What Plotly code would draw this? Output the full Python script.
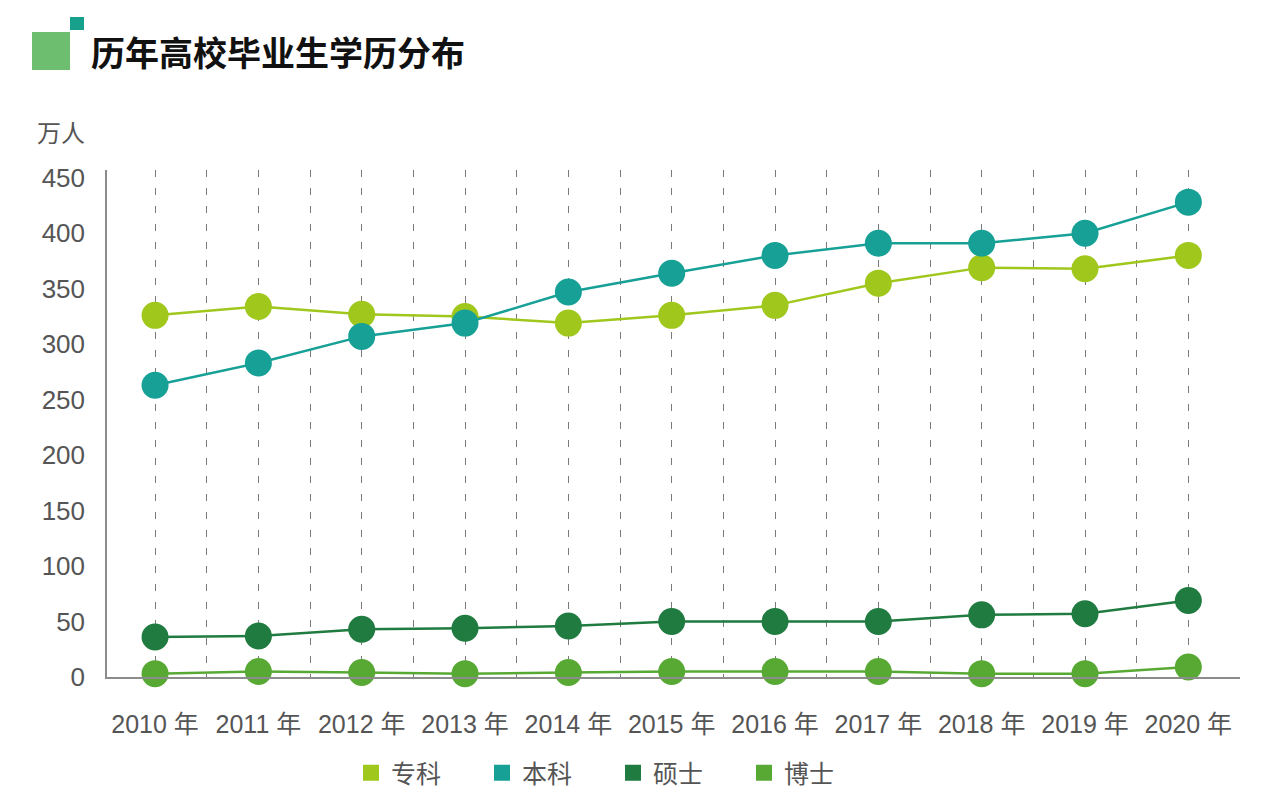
import plotly.graph_objects as go

years = [2010, 2011, 2012, 2013, 2014, 2015, 2016, 2017, 2018, 2019, 2020]
year_labels = [f"{y} 年" for y in years]
zhuanke = [326, 334, 327, 325, 319, 326, 335, 355, 369, 368, 380]
benke = [263, 283, 307, 319, 347, 364, 380, 391, 391, 400, 428]
shuoshi = [36, 37, 43, 44, 46, 50, 50, 50, 56, 57, 69]
boshi = [3, 5, 4, 3, 4, 5, 5, 5, 3, 3, 9]
y_ticks = [0, 50, 100, 150, 200, 250, 300, 350, 400, 450]

series = [
    ("专科", zhuanke, "#9fc71c"),
    ("本科", benke, "#16a096"),
    ("硕士", shuoshi, "#1f7b3f"),
    ("博士", boshi, "#58a934"),
]

OFF = 8  # page body margin
W, H = 1280 - 2 * OFF, 808 - 2 * OFF
L, T = 107 - OFF, 170 - OFF
R = W - (1240 - OFF)
B = H - (677 - OFF)
PW, PH = W - L - R, H - T - B

def px_x(p):
    return (p - OFF - L) / PW

def px_y(p):
    return (H - B - (p - OFF)) / PH

FONT = "Liberation Sans, Arial, Noto Sans CJK SC, sans-serif"
CJK = "Noto Sans CJK SC, sans-serif"
GRID = "7px,11px"

fig = go.Figure()
for name, vals, color in series:
    fig.add_trace(go.Scatter(
        x=years, y=vals, mode="lines+markers", name=name,
        line=dict(color=color, width=2.5),
        marker=dict(color=color, size=27),
        cliponaxis=False, showlegend=False,
    ))
for name, vals, color in series:
    fig.add_trace(go.Scatter(
        x=[None], y=[None], mode="markers", name=name,
        marker=dict(color=color, size=22, symbol="square"),
        showlegend=True,
    ))

fig.update_layout(
    width=W, height=H,
    margin=dict(l=L, r=R, t=T, b=B, autoexpand=False),
    paper_bgcolor="white", plot_bgcolor="white",
    font=dict(family=FONT, color="#555555", size=22),
    legend=dict(
        orientation="h", x=px_x(351), xanchor="left",
        y=px_y(773), yanchor="middle",
        entrywidth=86, entrywidthmode="pixels",
        font=dict(family=CJK, size=25, color="#555555"),
        bgcolor="rgba(0,0,0,0)",
    ),
    xaxis=dict(
        range=[years[0] - 0.465, years[-1] + 0.5],
        tickvals=years, ticktext=year_labels,
        showgrid=True, griddash=GRID, gridcolor="#7a7a7a", gridwidth=1,
        minor=dict(dtick=0.5, tick0=years[0] + 0.5, showgrid=True,
                   griddash=GRID, gridcolor="#7a7a7a", gridwidth=1),
        showline=True, linecolor="#8c8c8c", linewidth=1.5,
        zeroline=False, ticks="", ticklabelstandoff=24,
        tickfont=dict(family=FONT, size=25, color="#555555"),
    ),
    yaxis=dict(
        range=[0, 457], tickvals=y_ticks,
        showgrid=False, zeroline=False,
        showline=True, linecolor="#8c8c8c", linewidth=1.5,
        ticks="", ticklabelstandoff=15,
        tickfont=dict(family=FONT, size=26, color="#555555"),
    ),
    shapes=[
        dict(type="rect", xref="paper", yref="paper",
             x0=px_x(32), x1=px_x(70), y0=px_y(70), y1=px_y(32),
             fillcolor="#6dbe6e", line=dict(width=0), layer="above"),
        dict(type="rect", xref="paper", yref="paper",
             x0=px_x(70), x1=px_x(84), y0=px_y(30), y1=px_y(17),
             fillcolor="#17a08c", line=dict(width=0), layer="above"),
    ],
    annotations=[
        dict(text="<b>历年高校毕业生学历分布</b>", xref="paper", yref="paper",
             x=px_x(89), y=px_y(52), xanchor="left", yanchor="middle",
             showarrow=False,
             font=dict(family=CJK, size=34, color="#111111", weight=900)),
        dict(text="万人", xref="paper", yref="paper",
             x=px_x(35), y=px_y(131), xanchor="left", yanchor="middle",
             showarrow=False, font=dict(family=CJK, size=24, color="#555555")),
    ],
)

fig.write_html("out.html")
